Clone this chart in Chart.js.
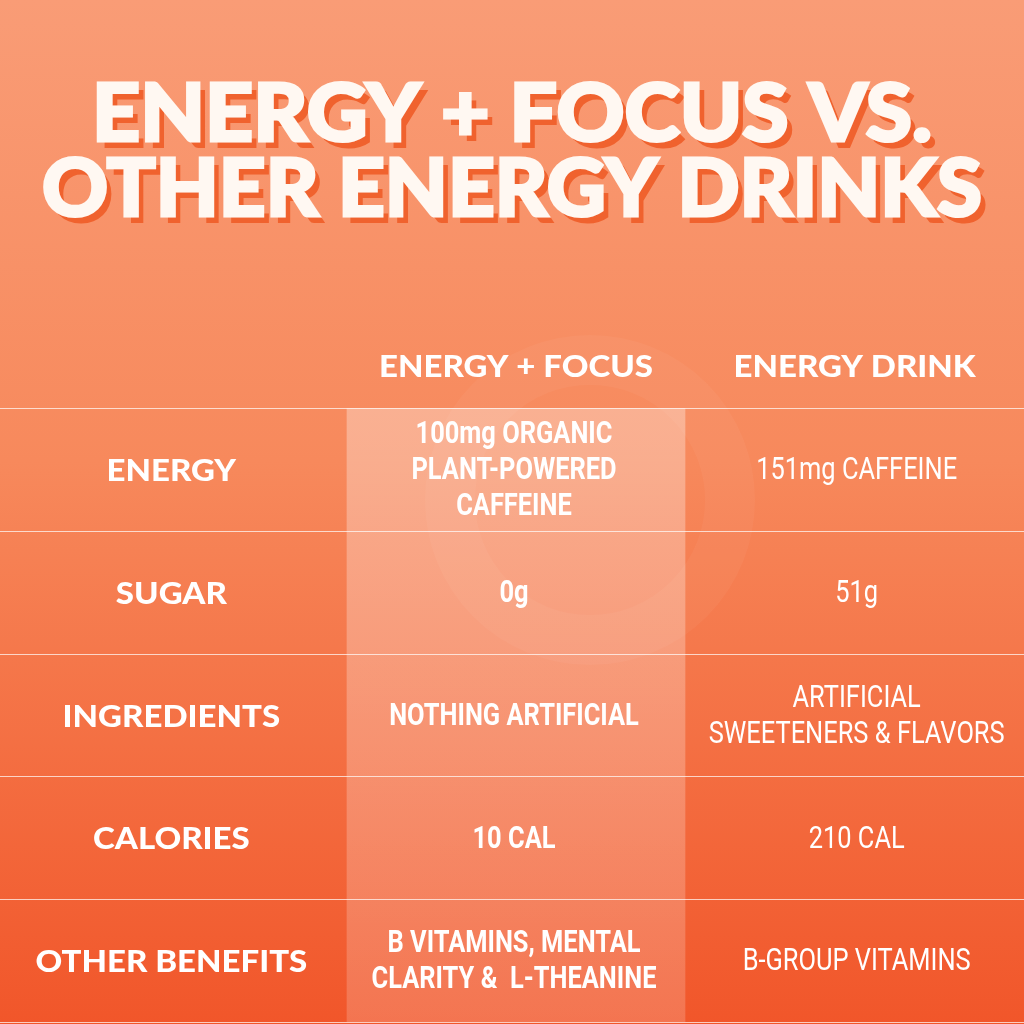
<!DOCTYPE html>
<html><head><meta charset="utf-8">
<script src="https://cdn.jsdelivr.net/npm/chart.js@4"></script>
<style>html,body{margin:0;padding:0;background:#f5895a}canvas{display:block}</style>
</head><body>
<div style="width:1024px;height:1024px"><canvas id="c" width="1024" height="1024"></canvas></div>
<script>
const titleLines = ["ENERGY + FOCUS VS.", "OTHER ENERGY DRINKS"];
const columns = ["", "ENERGY + FOCUS", "ENERGY DRINK"];
const rows = ["ENERGY", "SUGAR", "INGREDIENTS", "CALORIES", "OTHER BENEFITS"];
const focusValues = [["100mg ORGANIC","PLANT-POWERED","CAFFEINE"],["0g"],["NOTHING ARTIFICIAL"],["10 CAL"],["B VITAMINS, MENTAL","CLARITY &  L-THEANINE"]];
const drinkValues = [["151mg CAFFEINE"],["51g"],["ARTIFICIAL","SWEETENERS & FLAVORS"],["210 CAL"],["B-GROUP VITAMINS"]];

const tablePlugin = {
  id: 'table',
  beforeDraw(chart) {
    const ctx = chart.ctx, W = chart.width, H = chart.height;
    const g = ctx.createLinearGradient(0, 0, 0, H);
    g.addColorStop(0, '#f99c76'); g.addColorStop(0.45, '#f7895c'); g.addColorStop(1, '#f1562a');
    ctx.save(); ctx.fillStyle = g; ctx.fillRect(0, 0, W, H);
    ctx.strokeStyle = 'rgba(255,255,255,0.04)'; ctx.lineWidth = 50;
    ctx.beginPath(); ctx.arc(590, 500, 140, 0, Math.PI * 2); ctx.stroke();
    ctx.restore();
  },
  afterDraw(chart) {
    const ctx = chart.ctx, xs = chart.scales.x, ys = chart.scales.y, W = chart.width;
    const bandH = ys.getPixelForValue(1) - ys.getPixelForValue(0);
    const colW = xs.getPixelForValue(1) - xs.getPixelForValue(0);
    const top = ys.getPixelForValue(0) - bandH / 2;
    const bottom = ys.getPixelForValue(rows.length - 1) + bandH / 2;
    ctx.save();
    const c1 = xs.getPixelForValue(1);
    const hg = ctx.createLinearGradient(0, top, 0, bottom);
    hg.addColorStop(0, 'rgba(255,255,255,0.32)'); hg.addColorStop(1, 'rgba(255,255,255,0.18)');
    ctx.fillStyle = hg;
    ctx.fillRect(c1 - colW / 2, top, colW, bottom - top);
    ctx.strokeStyle = 'rgba(255,255,255,0.7)'; ctx.lineWidth = 1;
    for (let i = 0; i <= rows.length; i++) {
      const y = Math.round(top + i * bandH) + 0.5;
      ctx.beginPath(); ctx.moveTo(0, y); ctx.lineTo(W, y); ctx.stroke();
    }
    ctx.fillStyle = '#fff'; ctx.textAlign = 'center'; ctx.textBaseline = 'middle';
    const wide = (t, x, y, sx) => { ctx.save(); ctx.translate(x, y); ctx.scale(sx, 1); ctx.fillText(t, 0, 0); ctx.restore(); };
    ctx.font = '900 30px Lato';
    for (let j = 1; j < columns.length; j++) wide(columns[j], xs.getPixelForValue(j), top - 41, 1.1);
    rows.forEach((r, i) => {
      const y = ys.getPixelForValue(i);
      ctx.font = '900 30px Lato';
      wide(r, xs.getPixelForValue(0) - 6, y + 2, 1.1);
      const draw = (lines, x, weight) => {
        ctx.font = weight + ' 31px Roboto, sans-serif';
        const lh = 36;
        lines.forEach((t, k) => wide(t, x, y + 2 + (k - (lines.length - 1) / 2) * lh, 0.82));
      };
      draw(focusValues[i], xs.getPixelForValue(1) - 2, 'bold');
      draw(drinkValues[i], xs.getPixelForValue(2) + 2, 'normal');
    });
    const targets = [840, 940], ys2 = [115, 190];
    titleLines.forEach((t, k) => {
      ctx.font = '900 80px Lato';
      const w = ctx.measureText(t).width;
      ctx.save(); ctx.translate(512, ys2[k]); ctx.scale(targets[k] / w, 1);
      ctx.fillStyle = '#f0622e'; ctx.fillText(t, 6, 7);
      ctx.strokeStyle = '#fff8f2'; ctx.lineWidth = 3; ctx.strokeText(t, 0, 0);
      ctx.fillStyle = '#fff8f2'; ctx.fillText(t, 0, 0);
      ctx.restore();
    });
    ctx.restore();
  }
};

new Chart(document.getElementById('c'), {
  type: 'line',
  data: { labels: columns, datasets: [{ data: [], showLine: false }] },
  options: {
    responsive: false, animation: false, devicePixelRatio: 1,
    layout: { padding: { top: 408, bottom: 2, left: 8, right: 0 } },
    plugins: { legend: { display: false }, tooltip: { enabled: false } },
    scales: {
      x: { type: 'category', labels: columns, offset: true, display: false },
      y: { type: 'category', labels: rows, offset: true, display: false }
    }
  },
  plugins: [tablePlugin]
});
</script>
</body></html>
